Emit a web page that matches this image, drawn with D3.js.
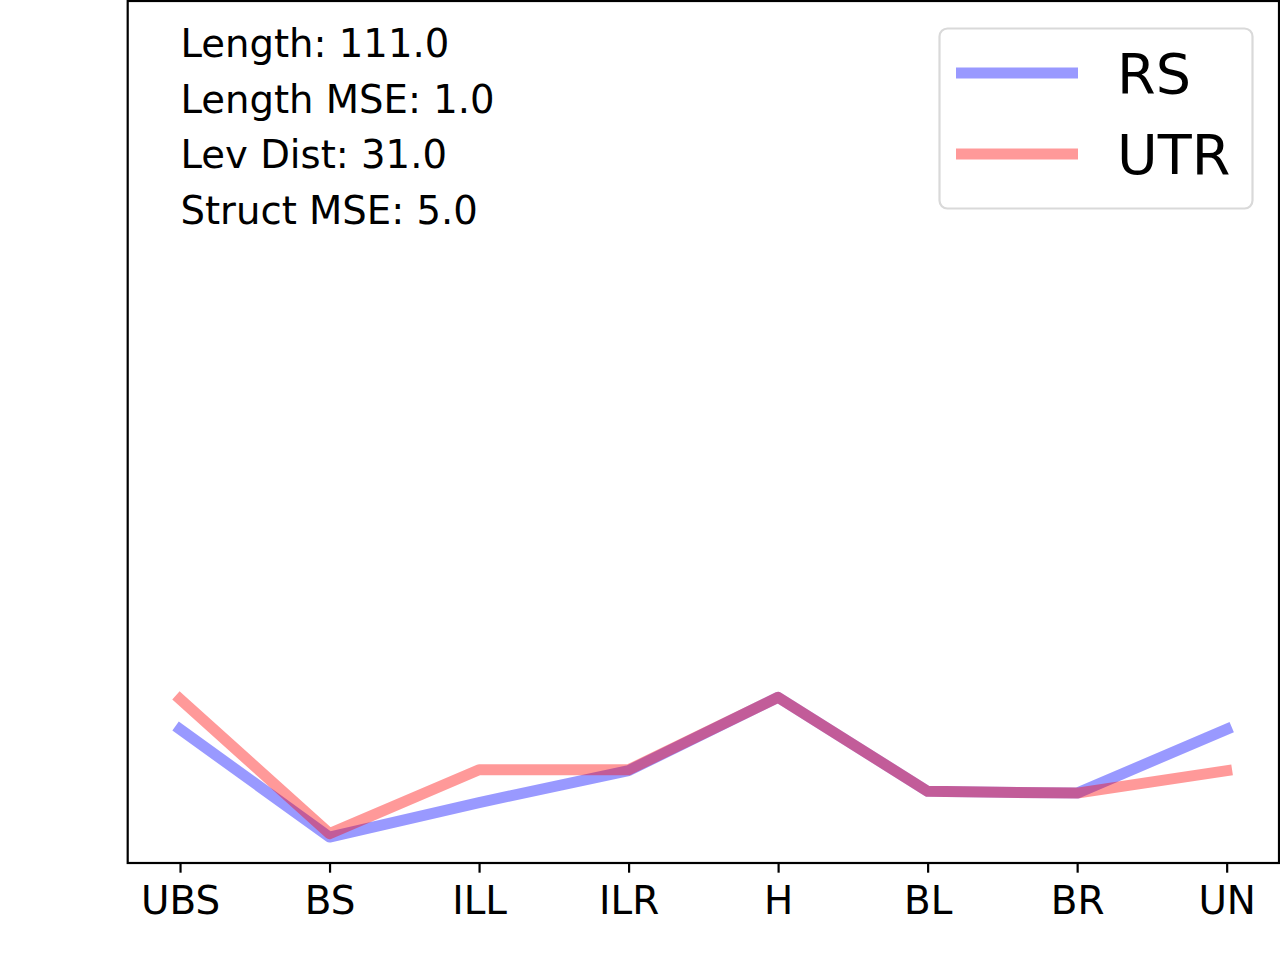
<!DOCTYPE html>
<html>
<head>
<meta charset="utf-8">
<script src="https://cdn.jsdelivr.net/npm/d3@7"></script>
<style>
  body { margin: 0; background: #fff; }
  svg { display: block; font-family: "DejaVu Sans", sans-serif; }
</style>
</head>
<body>
<div id="chart"></div>
<script>
(function() {
    // Données
    const categories = ["UBS", "BS", "ILL", "ILR", "H", "BL", "BR", "UN"];
    const rsValues  = [15.5, 3.0, 7.0, 10.7, 19.2, 8.3, 8.1, 15.5];
    const utrValues = [19.0, 3.4, 10.8, 10.8, 19.2, 8.3, 8.1, 10.7];
    const seriesNames = ["RS", "UTR"];
    const seriesColors = ["blue", "red"];
    const infoLines = ["Length: 111.0", "Length MSE: 1.0", "Lev Dist: 31.0", "Struct MSE: 5.0"];

    const W = 1280, H = 960;
    const plot = { left: 127.7, right: 1279, top: 1, bottom: 863 };

    const svg = d3.select("#chart").append("svg")
        .attr("width", W)
        .attr("height", H);

    // Échelles
    const x = d3.scaleLinear()
        .domain([-0.35, categories.length - 1 + 0.35])
        .range([plot.left, plot.right]);

    const y = d3.scaleLinear()
        .domain([0, 100])
        .range([plot.bottom, 0]);

    // Axe x
    const xAxis = d3.axisBottom(x)
        .tickValues(d3.range(categories.length))
        .tickFormat(i => categories[i])
        .tickSize(9.7)
        .tickPadding(14);

    const gx = svg.append("g")
        .attr("transform", `translate(0,${plot.bottom})`)
        .call(xAxis);
    gx.select(".domain").remove();
    gx.selectAll(".tick line").attr("stroke", "#000").attr("stroke-width", 2.2);
    gx.selectAll(".tick text")
        .attr("fill", "#000")
        .style("font-size", "38.9px")
        .style("font-family", "DejaVu Sans");

    // Lignes
    const line = d3.line()
        .x((d, i) => x(i))
        .y(d => y(d));

    [rsValues, utrValues].forEach((vals, k) => {
        svg.append("path")
            .datum(vals)
            .attr("d", line)
            .attr("fill", "none")
            .attr("stroke", seriesColors[k])
            .attr("stroke-opacity", 0.4)
            .attr("stroke-width", 11)
            .attr("stroke-linejoin", "round")
            .attr("stroke-linecap", "square");
    });

    // Cadre
    svg.append("rect")
        .attr("x", plot.left)
        .attr("y", plot.top)
        .attr("width", plot.right - plot.left)
        .attr("height", plot.bottom - plot.top)
        .attr("fill", "none")
        .attr("stroke", "#000")
        .attr("stroke-width", 2.2);

    // Texte d'information
    svg.append("g").selectAll("text")
        .data(infoLines)
        .enter().append("text")
        .attr("x", 180.5)
        .attr("y", (d, i) => 57 + i * 55.5)
        .style("font-size", "38.6px")
        .attr("fill", "#000")
        .text(d => d);

    // Légende
    const legend = svg.append("g");
    legend.append("rect")
        .attr("x", 939.5)
        .attr("y", 28.5)
        .attr("width", 313)
        .attr("height", 180)
        .attr("rx", 8)
        .attr("fill", "#fff")
        .attr("fill-opacity", 0.8)
        .attr("stroke", "#d9d9d9")
        .attr("stroke-width", 2.2);

    const items = legend.selectAll(".item")
        .data(seriesNames)
        .enter().append("g")
        .attr("class", "item")
        .attr("transform", (d, i) => `translate(0,${73 + i * 81})`);

    items.append("line")
        .attr("x1", 961.5)
        .attr("x2", 1072.5)
        .attr("stroke", (d, i) => seriesColors[i])
        .attr("stroke-opacity", 0.4)
        .attr("stroke-width", 11)
        .attr("stroke-linecap", "square");

    items.append("text")
        .attr("x", 1117)
        .attr("y", 20)
        .style("font-size", "55.6px")
        .attr("fill", "#000")
        .text(d => d);
})();
</script>
</body>
</html>
